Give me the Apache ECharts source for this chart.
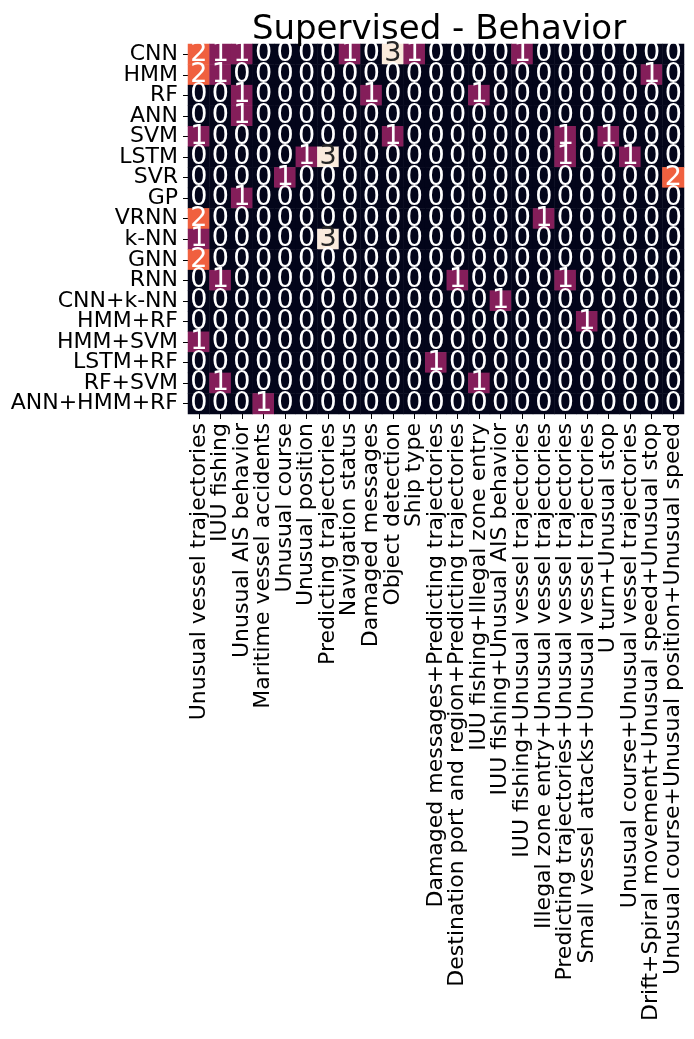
<!DOCTYPE html>
<html>
<head>
<meta charset="utf-8">
<script src="https://cdn.jsdelivr.net/npm/echarts@6/dist/echarts.min.js"></script>
<style>
html,body{margin:0;padding:0;background:#fff;}
#chart{width:694px;height:1039px;}
</style>
</head>
<body>
<div id="chart"></div>
<script>
const title = 'Supervised - Behavior';
const methods = ['CNN','HMM','RF','ANN','SVM','LSTM','SVR','GP','VRNN','k-NN','GNN','RNN','CNN+k-NN','HMM+RF','HMM+SVM','LSTM+RF','RF+SVM','ANN+HMM+RF'];
const behaviors = [
  'Unusual vessel trajectories','IUU fishing','Unusual AIS behavior','Maritime vessel accidents',
  'Unusual course','Unusual position','Predicting trajectories','Navigation status','Damaged messages',
  'Object detection','Ship type','Damaged messages+Predicting trajectories',
  'Destination port and region+Predicting trajectories','IUU fishing+Illegal zone entry',
  'IUU fishing+Unusual AIS behavior','IUU fishing+Unusual vessel trajectories',
  'Illegal zone entry+Unusual vessel trajectories','Predicting trajectories+Unusual vessel trajectories',
  'Small vessel attacks+Unusual vessel trajectories','U turn+Unusual stop',
  'Unusual course+Unusual vessel trajectories','Drift+Spiral movement+Unusual speed+Unusual stop',
  'Unusual course+Unusual position+Unusual speed'
];
const counts = [
  [2,1,1,0,0,0,0,1,0,3,1,0,0,0,0,1,0,0,0,0,0,0,0],
  [2,1,0,0,0,0,0,0,0,0,0,0,0,0,0,0,0,0,0,0,0,1,0],
  [0,0,1,0,0,0,0,0,1,0,0,0,0,1,0,0,0,0,0,0,0,0,0],
  [0,0,1,0,0,0,0,0,0,0,0,0,0,0,0,0,0,0,0,0,0,0,0],
  [1,0,0,0,0,0,0,0,0,1,0,0,0,0,0,0,0,1,0,1,0,0,0],
  [0,0,0,0,0,1,3,0,0,0,0,0,0,0,0,0,0,1,0,0,1,0,0],
  [0,0,0,0,1,0,0,0,0,0,0,0,0,0,0,0,0,0,0,0,0,0,2],
  [0,0,1,0,0,0,0,0,0,0,0,0,0,0,0,0,0,0,0,0,0,0,0],
  [2,0,0,0,0,0,0,0,0,0,0,0,0,0,0,0,1,0,0,0,0,0,0],
  [1,0,0,0,0,0,3,0,0,0,0,0,0,0,0,0,0,0,0,0,0,0,0],
  [2,0,0,0,0,0,0,0,0,0,0,0,0,0,0,0,0,0,0,0,0,0,0],
  [0,1,0,0,0,0,0,0,0,0,0,0,1,0,0,0,0,1,0,0,0,0,0],
  [0,0,0,0,0,0,0,0,0,0,0,0,0,0,1,0,0,0,0,0,0,0,0],
  [0,0,0,0,0,0,0,0,0,0,0,0,0,0,0,0,0,0,1,0,0,0,0],
  [1,0,0,0,0,0,0,0,0,0,0,0,0,0,0,0,0,0,0,0,0,0,0],
  [0,0,0,0,0,0,0,0,0,0,0,1,0,0,0,0,0,0,0,0,0,0,0],
  [0,1,0,0,0,0,0,0,0,0,0,0,0,1,0,0,0,0,0,0,0,0,0],
  [0,0,0,1,0,0,0,0,0,0,0,0,0,0,0,0,0,0,0,0,0,0,0]
];
const levelColors = ['#03051A','#841E5A','#F0603F','#FAEBDD'];

const FONT = 'DejaVu Sans';
const data = [];
counts.forEach((row, r) => row.forEach((v, c) => {
  data.push({value: [c, r, v], label: {color: v >= 3 ? '#262626' : '#ffffff'}});
}));

const chart = echarts.init(document.getElementById('chart'), null, {renderer: 'canvas'});
chart.setOption({
  animation: false,
  backgroundColor: '#ffffff',
  title: {
    text: title,
    left: 434,
    top: 8,
    textAlign: 'center',
    textStyle: {fontFamily: FONT, fontSize: 34, fontWeight: 'normal', color: '#000', lineHeight: 34}
  },
  grid: {left: 188, right: 10, top: 44, bottom: 625, containLabel: false},
  xAxis: {
    type: 'category',
    data: behaviors,
    axisLine: {show: false},
    axisTick: {show: true, alignWithLabel: true, length: 5, lineStyle: {color: '#000', width: 1}},
    axisLabel: {rotate: 90, margin: 9, fontFamily: FONT, fontSize: 22, color: '#000', interval: 0},
    splitLine: {show: false}
  },
  yAxis: {
    type: 'category',
    data: methods,
    inverse: true,
    axisLine: {show: false},
    axisTick: {show: true, alignWithLabel: true, length: 5, lineStyle: {color: '#000', width: 1}},
    axisLabel: {margin: 10, fontFamily: FONT, fontSize: 22, color: '#000', interval: 0},
    splitLine: {show: false}
  },
  visualMap: {
    show: false,
    type: 'piecewise',
    dimension: 2,
    pieces: levelColors.map((col, i) => ({value: i, color: col}))
  },
  series: [{
    type: 'heatmap',
    data: data,
    label: {show: true, fontFamily: FONT, fontSize: 27, formatter: p => String(p.value[2])},
    itemStyle: {borderWidth: 0},
    emphasis: {disabled: true}
  }]
});
</script>
</body>
</html>
